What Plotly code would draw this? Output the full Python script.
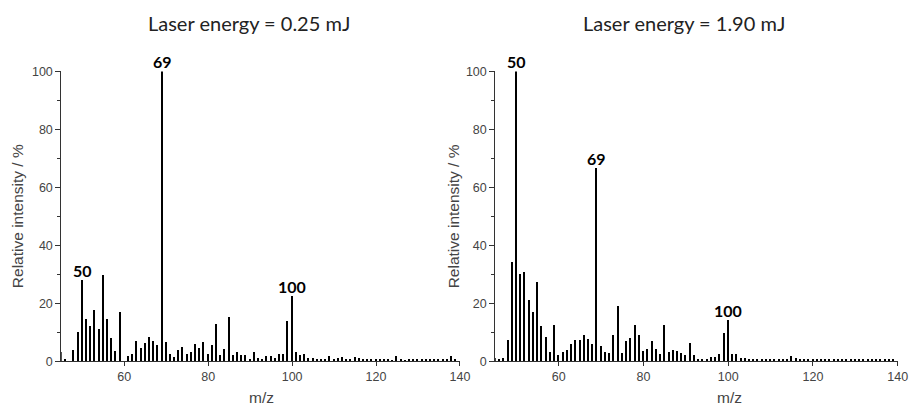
import plotly.graph_objects as go

mz = list(range(45, 140))

intensity_025 = [3, 0.3, 0, 3.8, 10, 28, 14.5, 12, 17.5, 11, 29.5, 14.5, 8, 3.5, 17,
                 0, 1.5, 2.3, 6.7, 4.3, 6, 8.2, 6.8, 5.6, 100, 6.5, 2.5, 1.3, 3.8, 4.8,
                 2.2, 3.1, 5.7, 4.4, 6.6, 2.4, 5.6, 12.8, 2, 4.2, 15, 2, 3.1, 2.1, 2.1,
                 0.5, 3.2, 1.1, 0.3, 1.5, 1.5, 1.1, 2.3, 2.5, 13.6, 22.4, 3, 1.9, 2.2, 0.9,
                 1.1, 0.7, 0.5, 0.5, 1.6, 0.7, 1, 1.2, 0.5, 0.8, 1.2, 0.9, 0.6, 0.5, 0.3,
                 0.5, 0.3, 0.4, 0.4, 0.2, 1.8, 0.3, 0.2, 0.3, 0.6, 0.3, 0.3, 0.3, 0.4, 0.3,
                 0.6, 0.8, 0.3, 1.5, 0.4]

intensity_190 = [1.1, 0.5, 1.1, 7.1, 34.1, 100, 29.9, 30.7, 20.9, 17, 27.3, 12, 8.1, 3.1, 12.2,
                 1.9, 3.1, 3.6, 5.9, 7.1, 7.2, 8.9, 7.6, 5.8, 66.7, 5.2, 3, 2.8, 8.9, 18.9,
                 2.6, 6.7, 8, 12.4, 8.9, 3.3, 4.1, 6.7, 4.1, 2.2, 12.4, 3, 3.9, 3.3, 2.6,
                 1.9, 6, 2, 0.8, 0.7, 0.8, 1.3, 1.4, 2.4, 9.7, 14.1, 2.2, 2.2, 1.1, 0.9,
                 0.8, 0.8, 0.4, 0.3, 0.6, 0.8, 0.5, 0.5, 0.5, 0.5, 1.8, 1, 0.7, 0.4, 0.3,
                 0.3, 0.4, 0.3, 0.4, 0.3, 0.4, 0.3, 0.4, 0.3, 0.5, 0.3, 0.4, 0.3, 0.3, 0.5,
                 0.3, 0.4, 0.3, 0.4, 0.4]

titles = ["Laser energy = 0.25 mJ", "Laser energy = 1.90 mJ"]
labels_025 = [50, 69, 100]
labels_190 = [50, 69, 100]

x_ticks = [60, 80, 100, 120, 140]
y_ticks = [0, 20, 40, 60, 80, 100]
y_minor = [10, 30, 50, 70, 90]

W, H = 919, 413

fig = go.Figure()
fig.add_trace(go.Bar(x=mz, y=intensity_025, width=0.33, marker=dict(color="black", line=dict(width=0)),
                     xaxis="x", yaxis="y", showlegend=False))
fig.add_trace(go.Bar(x=mz, y=intensity_190, width=0.33, marker=dict(color="black", line=dict(width=0)),
                     xaxis="x2", yaxis="y2", showlegend=False))

tickfont = dict(family="Liberation Sans, Arial, sans-serif", size=12.5, color="#444")
titlefont = dict(family="Liberation Sans, Arial, sans-serif", size=15.5, color="#444")

def xax(domain, anchor):
    return dict(domain=domain, anchor=anchor, range=[45, 140], tickvals=x_ticks,
                ticks="outside", ticklen=4, tickcolor="#333", showline=True, linecolor="#333",
                linewidth=1, showgrid=False, zeroline=False, tickfont=tickfont)

def yax(domain, anchor):
    return dict(domain=domain, anchor=anchor, range=[0, 100], tickvals=y_ticks,
                ticks="outside", ticklen=5, tickcolor="#333", showline=True, linecolor="#333",
                linewidth=1, showgrid=False, zeroline=False, tickfont=tickfont,
                minor=dict(tickvals=y_minor, ticks="outside", ticklen=3, tickcolor="#333"))

ydom = [1 - 366.7 / H, 1 - 66.7 / H]
fig.update_layout(
    width=W, height=H,
    margin=dict(l=0, r=0, t=0, b=0),
    paper_bgcolor="white", plot_bgcolor="white",
    bargap=0,
    xaxis=xax([62 / W, 465 / W], "y"),
    yaxis=yax(ydom, "x"),
    xaxis2=xax([500.7 / W, 907.6 / W], "y2"),
    yaxis2=yax(ydom, "x2"),
)

annots = []
titlefont_top = dict(family="Lato, sans-serif", size=20, color="#222")
annots.append(dict(text=titles[0], x=252 / W, y=1 - 17 / H, xref="paper", yref="paper",
                   showarrow=False, font=titlefont_top, xanchor="center", yanchor="middle"))
annots.append(dict(text=titles[1], x=692 / W, y=1 - 17 / H, xref="paper", yref="paper",
                   showarrow=False, font=titlefont_top, xanchor="center", yanchor="middle"))
# axis titles
for xc in [18, 458]:
    annots.append(dict(text="Relative intensity / %", x=xc / W, y=1 - 216.7 / H, xref="paper", yref="paper",
                       showarrow=False, textangle=-90, font=titlefont, xanchor="center", yanchor="middle"))
for xc in [264, 738]:
    annots.append(dict(text="m/z", x=xc / W, y=1 - 404 / H, xref="paper", yref="paper",
                       showarrow=False, font=titlefont, xanchor="center", yanchor="middle"))
peakfont = dict(family="Lato, sans-serif", size=16, color="black")
for lab in labels_025:
    annots.append(dict(text="<b>%d</b>" % lab, x=lab, y=intensity_025[mz.index(lab)], xref="x", yref="y",
                       showarrow=False, yanchor="bottom", yshift=-2, font=peakfont))
for lab in labels_190:
    annots.append(dict(text="<b>%d</b>" % lab, x=lab, y=intensity_190[mz.index(lab)], xref="x2", yref="y2",
                       showarrow=False, yanchor="bottom", yshift=-2, font=peakfont))
fig.update_layout(annotations=annots)

fig.write_html("out.html", post_script="document.body.style.margin='0';document.body.style.overflow='hidden';")
